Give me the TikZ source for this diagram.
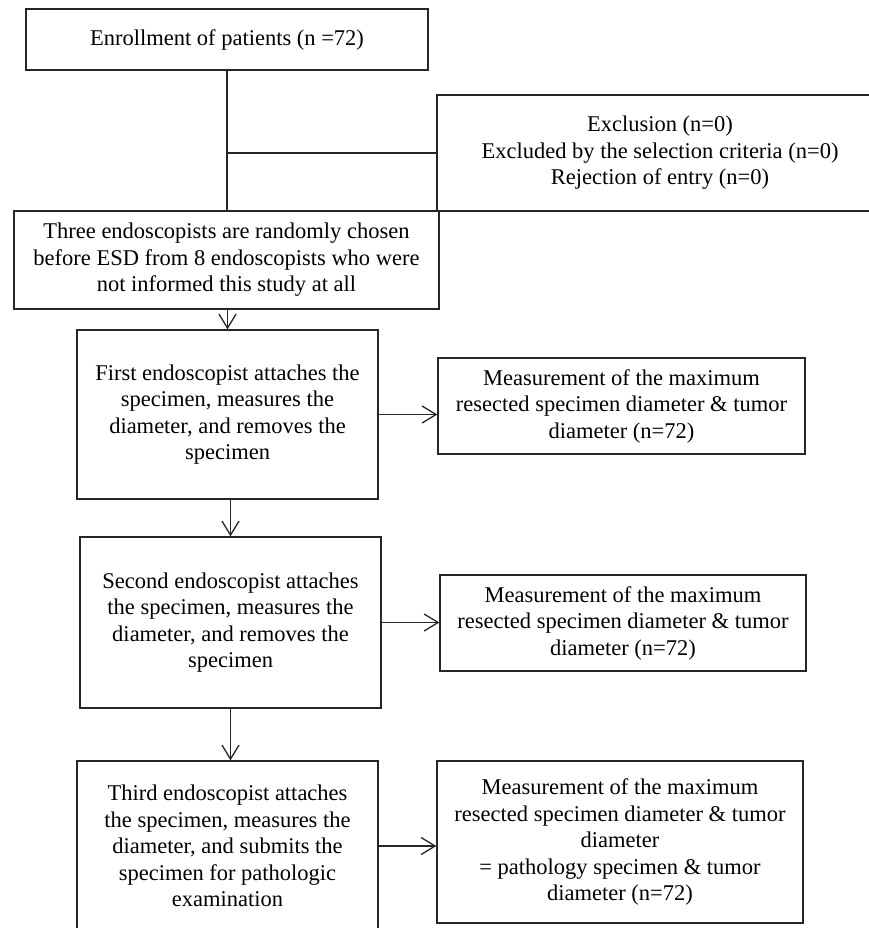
\documentclass[tikz,border=0pt]{standalone}
\usepackage{fontspec}
\setmainfont{Liberation Serif}
\usetikzlibrary{arrows.meta}
\begin{document}
\begin{tikzpicture}[x=1pt,y=-1pt,>={Straight Barb[length=14pt,width=17pt]}, line width=1.3pt,
	font=\fontsize{22.5}{26.5}\selectfont,
	box/.style={draw=black!85, align=center, inner sep=0pt}]
	\def\W{869} \def\H{928} % page size
	\clip (0,0) rectangle (\W,\H);
	\fill[white] (0,0) rectangle (\W,\H);
	\node[box, minimum width=402pt, minimum height=61pt] (enroll) at (227,39.5) {Enrollment of patients (n =72)};
	\node[box, minimum width=446pt, minimum height=116pt] (excl) at (660,153) {Exclusion (n=0)\\ Excluded by the selection criteria (n=0)\\ Rejection of entry (n=0)};
	\node[box, minimum width=425pt, minimum height=98pt] (three) at (226.5,260) {Three endoscopists are randomly chosen\\ before ESD from 8 endoscopists who were\\ not informed this study at all};
	\node[box, minimum width=301pt, minimum height=169pt] (first) at (227.5,414.5) {First endoscopist attaches the\\ specimen, measures the\\ diameter, and removes the\\ specimen};
	\node[box, minimum width=367pt, minimum height=96pt] (meas1) at (621.5,406) {Measurement of the maximum\\ resected specimen diameter \& tumor\\ diameter (n=72)};
	\node[box, minimum width=301pt, minimum height=171pt] (second) at (230.5,622.5) {Second endoscopist attaches\\ the specimen, measures the\\ diameter, and removes the\\ specimen};
	\node[box, minimum width=366pt, minimum height=96pt] (meas2) at (623,623) {Measurement of the maximum\\ resected specimen diameter \& tumor\\ diameter (n=72)};
	\node[box, minimum width=301pt, minimum height=170pt] (third) at (227.5,846) {Third endoscopist attaches\\ the specimen, measures the\\ diameter, and submits the\\ specimen for pathologic\\ examination};
	\node[box, minimum width=366pt, minimum height=162pt] (meas3) at (620,842) {Measurement of the maximum\\ resected specimen diameter \& tumor\\ diameter\\ = pathology specimen \& tumor\\ diameter (n=72)};
	% connectors
	\draw[black!85] (enroll.south) -- (enroll.south |- three.north);
	\draw[black!85] (enroll.south |- excl.west) -- (excl.west);
	\draw[->,black!85] (first.north |- three.south) -- (first.north);
	\draw[->,black!85] (second.north |- first.south) -- (second.north);
	\draw[->,black!85] (second.south) -- (second.south |- third.north);
	\draw[->,black!85] (first.east) -- (first.east -| meas1.west);
	\draw[->,black!85] (second.east) -- (second.east -| meas2.west);
	\draw[->,black!85] (third.east) -- (third.east -| meas3.west);
\end{tikzpicture}
\end{document}
